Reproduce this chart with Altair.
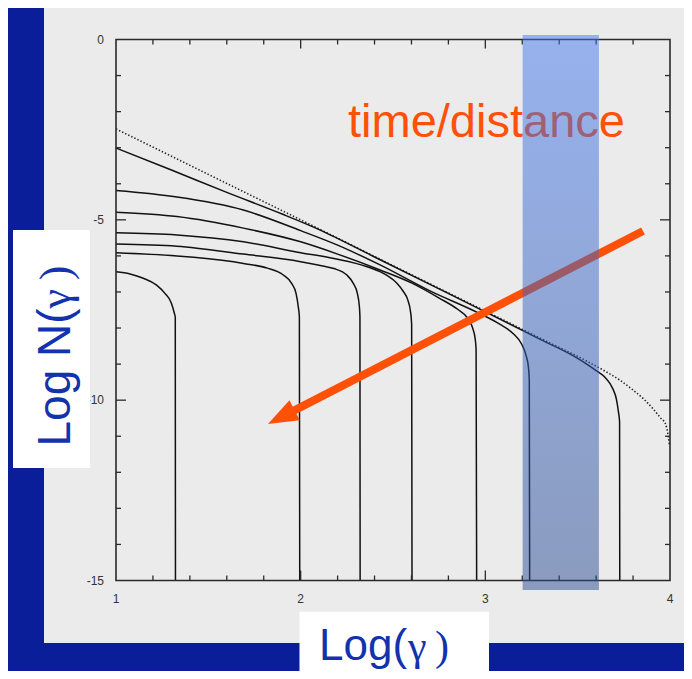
import altair as alt
import pandas as pd

W, H = 554, 541
X_DOM = [1, 4]
Y_DOM = [-15, 0]

# ---- data (log gamma, log N) ----
dot_x = [1.0, 1.5, 2.0, 2.5, 3.0, 3.3, 3.55, 3.65, 3.73, 3.8, 3.86, 3.91, 3.95, 3.975, 3.99, 3.997]
dot_y = [-2.48, -3.74, -5.0, -6.27, -7.53, -8.29, -8.92, -9.2, -9.45, -9.72, -9.98, -10.25, -10.5, -10.65, -10.98, -11.25]

c1_x = [1.0, 1.3, 1.6, 1.9, 2.1, 2.4, 2.7, 3.0, 3.3, 3.5, 3.6, 3.65, 3.69, 3.71, 3.72, 3.727, 3.728]
c1_y = [-3.01, -3.62, -4.24, -4.84, -5.27, -6.03, -6.79, -7.55, -8.32, -8.84, -9.18, -9.38, -9.68, -9.98, -10.3, -10.6, -15.0]

c2_x = [1.0, 1.33, 1.69, 2.0, 2.2, 2.43, 2.7, 2.97, 3.08, 3.15, 3.197, 3.22, 3.233, 3.238, 3.24]
c2_y = [-4.19, -4.37, -4.73, -5.3, -5.7, -6.25, -6.97, -7.6, -7.9, -8.15, -8.45, -8.75, -9.07, -9.44, -15.0]

c3_x = [1.0, 1.33, 1.69, 2.0, 2.2, 2.43, 2.6, 2.75, 2.85, 2.9, 2.93, 2.945, 2.95, 2.953]
c3_y = [-4.79, -4.91, -5.23, -5.61, -5.95, -6.39, -6.75, -7.17, -7.48, -7.7, -7.98, -8.3, -8.6, -15.0]

c4_x = [1.0, 1.33, 1.69, 2.0, 2.18, 2.36, 2.47, 2.52, 2.555, 2.58, 2.595, 2.601, 2.603]
c4_y = [-5.36, -5.42, -5.61, -5.91, -6.07, -6.3, -6.55, -6.75, -6.98, -7.22, -7.55, -7.9, -15.0]

c5_x = [1.0, 1.33, 1.69, 2.0, 2.12, 2.18, 2.25, 2.285, 2.307, 2.318, 2.321, 2.322]
c5_y = [-5.67, -5.73, -5.95, -6.16, -6.28, -6.35, -6.53, -6.76, -7.04, -7.41, -7.7, -15.0]

c6_x = [1.0, 1.33, 1.42, 1.69, 1.82, 1.906, 1.951, 1.975, 1.987, 1.993, 1.995]
c6_y = [-5.91, -6.0, -6.04, -6.21, -6.34, -6.53, -6.76, -7.04, -7.41, -7.69, -15.0]

c7_x = [1.0, 1.076, 1.148, 1.22, 1.265, 1.30, 1.316, 1.321, 1.322]
c7_y = [-6.44, -6.5, -6.62, -6.81, -7.04, -7.31, -7.59, -7.7, -15.0]

band_x = [3.202, 3.615]
band_y = [0.125, -15.263]

arrow_x = [3.854, 1.895]
arrow_y = [-5.31, -10.47]

x_major = [2, 3]
x_minor = [1.2, 1.4, 1.6, 1.8, 2.2, 2.4, 2.6, 2.8, 3.2, 3.4, 3.6, 3.8]
y_major = [-5, -10]
y_minor = [-1, -2, -3, -4, -6, -7, -8, -9, -11, -12, -13, -14]
x_labels = [1, 2, 3, 4]
y_labels = [0, -5, -10, -15]

# ---- tables ----
rows = []
for name, xs_, ys_ in [("c1", c1_x, c1_y), ("c2", c2_x, c2_y), ("c3", c3_x, c3_y),
                       ("c4", c4_x, c4_y), ("c5", c5_x, c5_y), ("c6", c6_x, c6_y),
                       ("c7", c7_x, c7_y)]:
    for i, (a, b) in enumerate(zip(xs_, ys_)):
        rows.append({"curve": name, "i": i, "x": a, "y": b})
curves = pd.DataFrame(rows)
dotted = pd.DataFrame({"x": dot_x, "y": dot_y, "i": list(range(len(dot_x)))})

xs = alt.Scale(domain=X_DOM, nice=False, zero=False)
ys = alt.Scale(domain=Y_DOM, nice=False, zero=False)
one = pd.DataFrame({"a": [0]})

ORANGE = "#ff5008"
BLUE_TXT = "#1232ae"
FONT = "Liberation Sans"
SERIF = "Liberation Serif"

panel = alt.Chart(one).mark_rect(color="#ebebeb").encode(
    x=alt.value(-72), x2=alt.value(600), y=alt.value(-40), y2=alt.value(603.5))

time_txt = alt.Chart(pd.DataFrame({"t": ["time/distance"]})).mark_text(
    align="left", baseline="alphabetic", font=FONT, fontSize=47, color=ORANGE
).encode(x=alt.value(232), y=alt.value(97.5), text="t:N")

dot_line = alt.Chart(dotted).mark_line(color="#222", strokeWidth=1.6, strokeDash=[1.4, 2.0],
                                       interpolate="monotone").encode(
    x=alt.X("x:Q", scale=xs, axis=None), y=alt.Y("y:Q", scale=ys, axis=None), order="i:Q")

curve_lines = alt.Chart(curves).mark_line(color="#111", strokeWidth=1.5,
                                          interpolate="monotone").encode(
    x=alt.X("x:Q", scale=xs, axis=None), y=alt.Y("y:Q", scale=ys, axis=None),
    detail="curve:N", order="i:Q")

frame = alt.Chart(one).mark_rect(fillOpacity=0, stroke="#2a2a2a", strokeWidth=1.6).encode(
    x=alt.value(0), x2=alt.value(W), y=alt.value(0), y2=alt.value(H))

def xt(vals, y0, y1):
    return alt.Chart(pd.DataFrame({"v": vals})).mark_rule(color="#2a2a2a", strokeWidth=1.3).encode(
        x=alt.X("v:Q", scale=xs), y=alt.value(y0), y2=alt.value(y1))

def yt(vals, x0, x1):
    return alt.Chart(pd.DataFrame({"v": vals})).mark_rule(color="#2a2a2a", strokeWidth=1.3).encode(
        y=alt.Y("v:Q", scale=ys), x=alt.value(x0), x2=alt.value(x1))

ticks = [xt(x_minor, 0, 5), xt(x_major, 0, 9), xt(x_minor, H, H - 5), xt(x_major, H, H - 10),
         yt(y_minor, 0, 5), yt(y_major, 0, 10), yt(y_minor, W, W - 5), yt(y_major, W, W - 10)]

xlab = alt.Chart(pd.DataFrame({"v": x_labels})).mark_text(
    font=FONT, fontSize=12, color="#333", align="center", baseline="alphabetic"
).encode(x=alt.X("v:Q", scale=xs), y=alt.value(563), text="v:Q")

ylab = alt.Chart(pd.DataFrame({"v": y_labels})).transform_calculate(
    s="'' + datum.v").mark_text(
    font=FONT, fontSize=12, color="#333", align="right", baseline="middle"
).encode(y=alt.Y("v:Q", scale=ys), x=alt.value(-12), text="s:N")

arrow_line = alt.Chart(pd.DataFrame({"x": [arrow_x[0]], "y": [arrow_y[0]],
                                     "x2": [arrow_x[1]], "y2": [arrow_y[1]]})).mark_rule(
    color=ORANGE, strokeWidth=8, strokeCap="butt").encode(
    x=alt.X("x:Q", scale=xs), y=alt.Y("y:Q", scale=ys), x2="x2:Q", y2="y2:Q")

arrow_head = alt.Chart(pd.DataFrame({"x": [arrow_x[1]], "y": [arrow_y[1]]})).mark_point(
    shape="M0,-1L0.75,1L-0.75,1Z", size=900, filled=True, opacity=1, color=ORANGE,
    strokeWidth=0, angle=242.7).encode(
    x=alt.X("x:Q", scale=xs), y=alt.Y("y:Q", scale=ys))

band = alt.Chart(pd.DataFrame({"x": [band_x[0]], "x2": [band_x[1]],
                               "y": [band_y[0]], "y2": [band_y[1]]})).mark_rect(
    fill=alt.Gradient(gradient="linear",
                      stops=[alt.GradientStop(color="#4178f0", offset=0),
                             alt.GradientStop(color="#294b91", offset=1)],
                      x1=0, x2=0, y1=0, y2=1),
    opacity=0.5).encode(
    x=alt.X("x:Q", scale=xs), x2="x2:Q", y=alt.Y("y:Q", scale=ys), y2="y2:Q")

# y title box: "Log N(" in sans, "γ)" in serif, rotated
ybox = alt.Chart(one).mark_rect(color="white").encode(
    x=alt.value(-103), x2=alt.value(-26), y=alt.value(190.5), y2=alt.value(428.5))
ytitle1 = alt.Chart(pd.DataFrame({"t": ["Log N("]})).mark_text(
    font=FONT, fontSize=46, color=BLUE_TXT, angle=270, align="left", baseline="alphabetic"
).encode(x=alt.value(-46), y=alt.value(407), text="t:N")
ytitle2 = alt.Chart(pd.DataFrame({"t": ["γ\u2009)"]})).mark_text(
    font=SERIF, fontSize=44, color=BLUE_TXT, angle=270, align="left", baseline="alphabetic"
).encode(x=alt.value(-46), y=alt.value(269), text="t:N")

# x title box
xbox = alt.Chart(one).mark_rect(color="white").encode(
    x=alt.value(183.5), x2=alt.value(373), y=alt.value(572.2), y2=alt.value(660))
xtitle1 = alt.Chart(pd.DataFrame({"t": ["Log("]})).mark_text(
    font=FONT, fontSize=44, color=BLUE_TXT, align="left", baseline="alphabetic"
).encode(x=alt.value(203), y=alt.value(620.5), text="t:N")
xtitle2 = alt.Chart(pd.DataFrame({"t": ["γ\u2009)"]})).mark_text(
    font=SERIF, fontSize=42, color=BLUE_TXT, align="left", baseline="alphabetic"
).encode(x=alt.value(292), y=alt.value(620.5), text="t:N")

chart = alt.layer(panel, time_txt, dot_line, curve_lines, frame, *ticks, xlab, ylab,
                  arrow_line, arrow_head, band, ybox, ytitle1, ytitle2,
                  xbox, xtitle1, xtitle2).properties(
    width=W, height=H,
    autosize=alt.AutoSizeParams(type="none"),
    padding={"left": 108, "top": 31.5, "right": 14, "bottom": 90.5},
    background="#0a1e9a",
).configure_view(stroke=None)

chart.save("out.html", embed_options={"renderer": "svg", "actions": False})
